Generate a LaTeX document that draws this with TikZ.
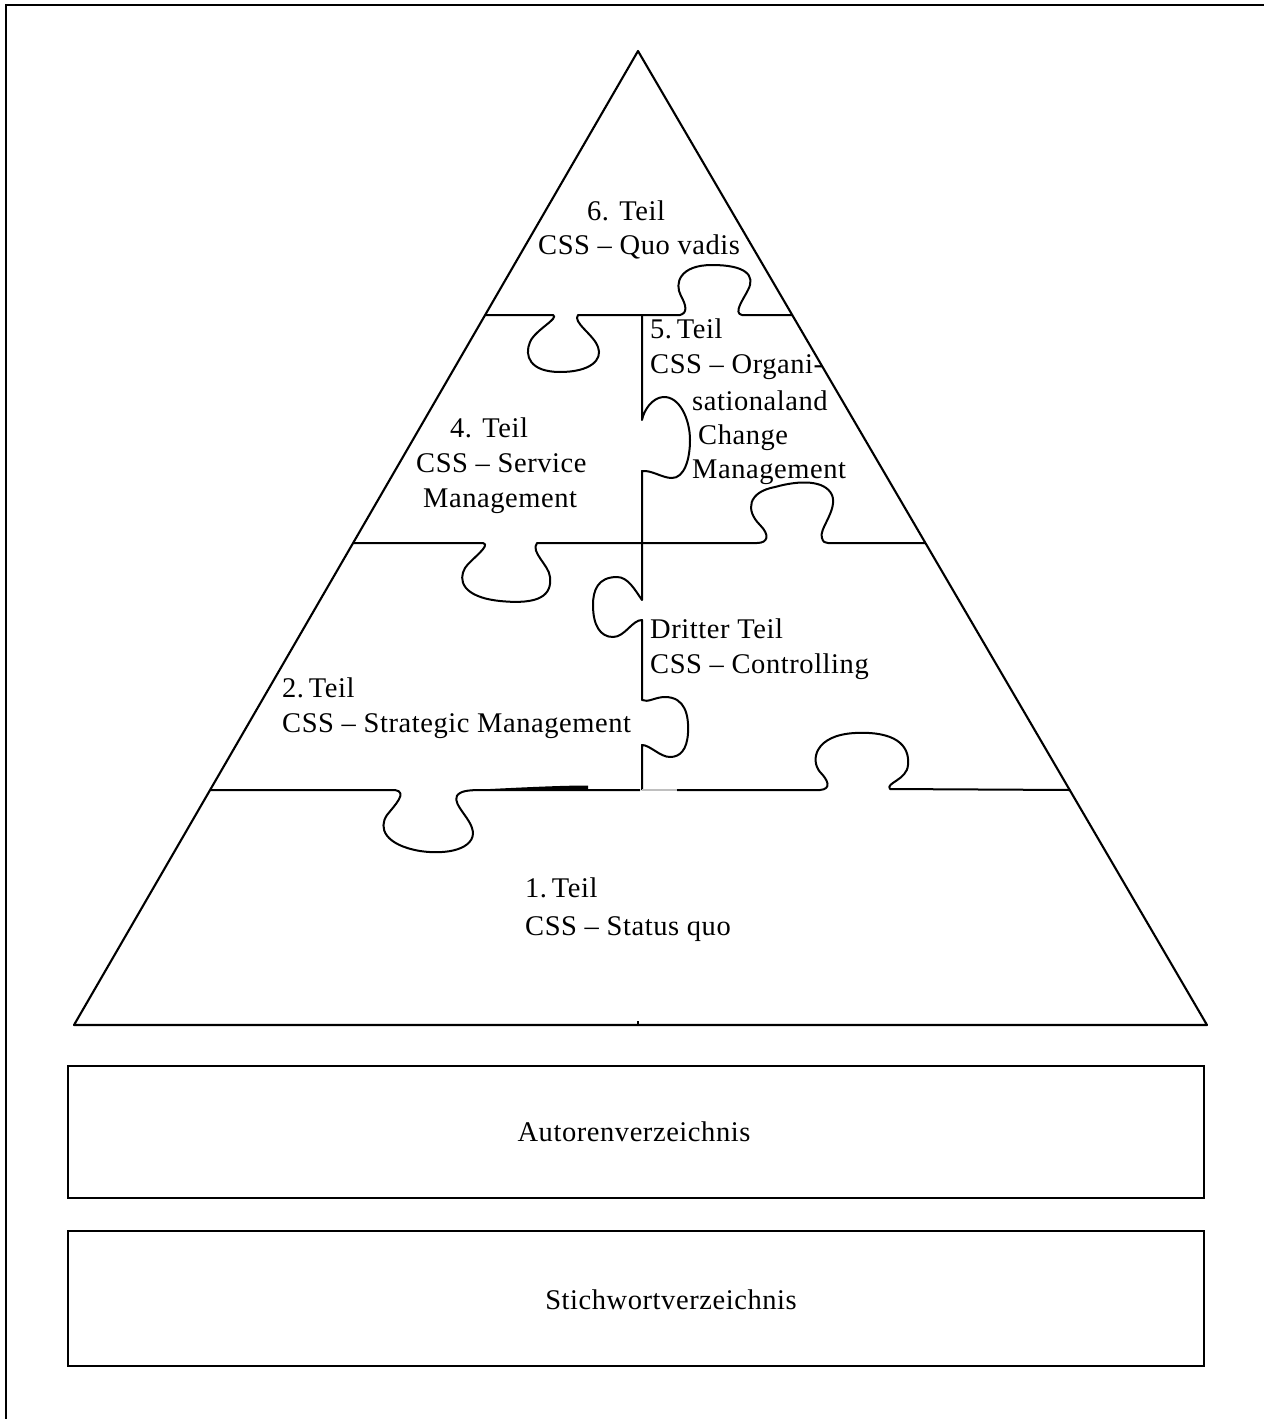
\documentclass[tikz,border=0pt]{standalone}
\usepackage{fontspec}
\setmainfont{Liberation Serif}[LetterSpace=2.0]
\begin{document}
\begin{tikzpicture}[x=1pt,y=-1pt,
  edge/.style={line width=2.1pt, line join=round, line cap=round},
  piece/.style={line width=2pt, line join=round},
  lbl/.style={anchor=base west, inner sep=0pt, font=\fontsize{28.5}{35}\selectfont},
  clbl/.style={inner sep=0pt, font=\fontsize{28.5}{35}\selectfont},
  listbox/.style={draw, line width=1.9pt, minimum width=1136pt, inner sep=0pt}]
\useasboundingbox (0,0) rectangle (1264,1419);
\fill[white] (0,0) rectangle (1264,1419);

% outer frame (open to the right and bottom)
\draw[line width=2.6pt] (6,1419) -- (6,5) -- (1264,5);

% pyramid outline
\coordinate (apex) at (638,51);
\coordinate (bl) at (74,1025);
\coordinate (br) at (1207,1025);
\draw[edge] (bl) -- (apex) -- (br) -- cycle;
\draw[line width=1.8pt] (638,1021) -- (638,1025);

% seam between level 6 and levels 4/5
\draw[piece] (485,315) -- (553,315)
  .. controls (560,318) and (535,330) .. (530,342)
  .. controls (524,356) and (530,372) .. (560,372)
  .. controls (590,372) and (603,360) .. (598,347)
  .. controls (594,335) and (572,322) .. (578,315)
  -- (680,315)
  .. controls (688,313) and (686,305) .. (681,296)
  .. controls (674,283) and (680,265) .. (712,265)
  .. controls (745,265) and (756,275) .. (748,290)
  .. controls (743,300) and (733,313) .. (742,315)
  -- (792,315);

% seam between level 4 and level 5
\draw[piece] (642,315) -- (642,420)
  .. controls (644,410) and (652,398) .. (663,397)
  .. controls (680,396) and (690,420) .. (690,440)
  .. controls (690,460) and (684,478) .. (672,478)
  .. controls (662,478) and (652,470) .. (642,471)
  -- (642,543);

% seam between levels 4/5 and levels 2/3
\draw[piece] (353,543) -- (483,543)
  .. controls (492,545) and (470,560) .. (465,568)
  .. controls (458,580) and (462,597) .. (500,601)
  .. controls (540,605) and (552,595) .. (550,577)
  .. controls (549,565) and (530,552) .. (537,543)
  -- (757,543)
  .. controls (768,543) and (770,535) .. (760,525)
  .. controls (745,510) and (748,492) .. (775,487)
  .. controls (800,480) and (825,480) .. (832,495)
  .. controls (838,510) and (818,530) .. (822,538)
  .. controls (823,542) and (825,543) .. (828,543)
  -- (925,543);

% seam between level 2 and level 3
\draw[piece] (642,543) -- (642,600)
  .. controls (635,590) and (628,577) .. (617,577)
  .. controls (598,577) and (593,590) .. (593,605)
  .. controls (593,625) and (600,637) .. (613,637)
  .. controls (625,637) and (632,620) .. (642,620)
  -- (642,700)
  .. controls (648,703) and (655,697) .. (665,697)
  .. controls (685,697) and (689,715) .. (688,733)
  .. controls (687,750) and (680,757) .. (670,757)
  .. controls (660,757) and (650,745) .. (642,745)
  -- (642,790);

% seam between levels 2/3 and level 1
\draw[piece] (210,790) -- (395,790)
  .. controls (408,792) and (395,805) .. (387,815)
  .. controls (378,828) and (385,845) .. (420,851)
  .. controls (455,856) and (478,845) .. (472,828)
  .. controls (468,815) and (448,800) .. (460,793)
  .. controls (465,790) and (475,790) .. (485,790)
  -- (640,790);
\fill (470,790) .. controls (520,787.5) and (560,785.5) .. (588,785.5) -- (588,790) -- cycle;
\draw[line width=1.2pt, black!25] (642,790) -- (677,790);
\draw[piece] (677,790) -- (705,790) -- (820,790)
  .. controls (832,789) and (828,780) .. (820,772)
  .. controls (810,760) and (815,735) .. (855,733)
  .. controls (895,731) and (910,745) .. (908,765)
  .. controls (907,780) and (885,783) .. (890,789)
  -- (1070,790);

% level labels
\node[lbl] (t6a) at (587,220) {6. Teil};
\node[lbl] (t6b) at (538,254) {CSS – Quo vadis};
\node[lbl] (t5a) at (650,338) {5.\,Teil};
\node[lbl] (t5b) at (650,373) {CSS – Organi-};
\node[lbl] (t5c) at (692,410) {sationaland};
\node[lbl] (t5d) at (698,444) {Change};
\node[lbl] (t5e) at (692,478) {Management};
\node[lbl] (t4a) at (450,437) {4. Teil};
\node[lbl] (t4b) at (416,472) {CSS – Service};
\node[lbl] (t4c) at (423,507) {Management};
\node[lbl] (t3a) at (650,638) {Dritter Teil};
\node[lbl] (t3b) at (650,673) {CSS – Controlling};
\node[lbl] (t2a) at (282,697) {2.\,Teil};
\node[lbl] (t2b) at (282,732) {CSS – Strategic Management};
\node[lbl] (t1a) at (525,897) {1.\,Teil};
\node[lbl] (t1b) at (525,935) {CSS – Status quo};

% index boxes
\node[listbox, minimum height=132pt] (authors) at (636,1132) {};
\node[listbox, minimum height=135pt] (keywords) at (636,1298.5) {};
\node[clbl] (authorsText) at (634,1132) {Autorenverzeichnis};
\node[clbl] (keywordsText) at (671,1300) {Stichwortverzeichnis};
\end{tikzpicture}
\end{document}
